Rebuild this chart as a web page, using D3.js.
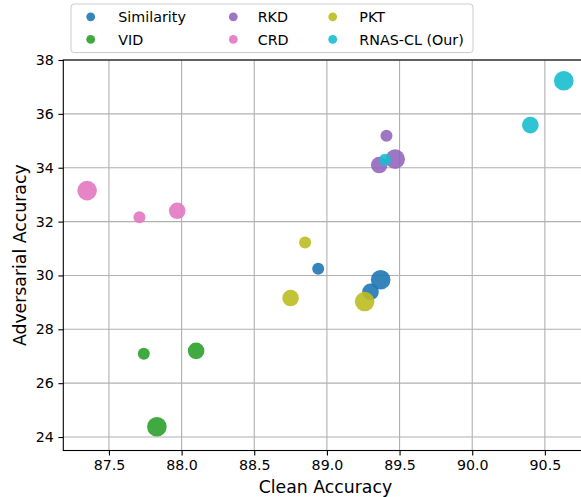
<!DOCTYPE html>
<html>
<head>
<meta charset="utf-8">
<script src="https://cdn.jsdelivr.net/npm/d3@7"></script>
<style>
body { margin: 0; background: white; }
svg { display: block; font-family: "DejaVu Sans", sans-serif; }
</style>
</head>
<body>
<div id="chart"></div>
<script>
// methods, in plotting / legend order
const methods = ['Similarity', 'VID', 'RKD', 'CRD', 'PKT', 'RNAS-CL (Our)']
const colors = ['#1f77b4', '#2ca02c', '#9467bd', '#e377c2', '#bcbd22', '#17becf']
// model size of each of the three points per method
const modelSizes = ['small', 'medium', 'large']
const cleanAcc = [
	[88.94, 89.30, 89.37],
	[87.74, 88.10, 87.83],
	[89.41, 89.36, 89.47],
	[87.71, 87.97, 87.35],
	[88.85, 88.75, 89.26],
	[89.40, 90.40, 90.63]
]
const advAcc = [
	[30.25, 29.39, 29.84],
	[27.09, 27.20, 24.38],
	[35.19, 34.10, 34.32],
	[32.16, 32.40, 33.15],
	[31.22, 29.16, 29.03],
	[34.30, 35.58, 37.23]
]
const xTicks = [87.5, 88.0, 88.5, 89.0, 89.5, 90.0, 90.5]
const yTicks = [24, 26, 28, 30, 32, 34, 36, 38]
const yLimits = [23.5, 38]

var width = 581, height = 497
var plot = {left: 63.3, top: 60, right: 587.6, bottom: 450.5}

var points = []
methods.forEach(function(m, i){
	modelSizes.forEach(function(s, j){
		points.push({method: m, color: colors[i], size: s, x: cleanAcc[i][j], y: advAcc[i][j]})
	})
})

// matplotlib-style 5% margin on x
var xExt = d3.extent(points, function(d){ return d.x })
var xPad = (xExt[1] - xExt[0]) * 0.05
var x = d3.scaleLinear().domain([xExt[0] - xPad, xExt[1] + xPad]).range([plot.left, plot.right])
var y = d3.scaleLinear().domain(yLimits).range([plot.bottom, plot.top])
var r = d3.scaleOrdinal().domain(modelSizes).range([6, 8.3, 9.8])

var svg = d3.select('#chart').append('svg')
	.attr('width', width)
	.attr('height', height)
	.style('overflow', 'hidden')

// grid
svg.append('g')
	.selectAll('line')
	.data(xTicks)
	.enter()
	.append('line')
	.attr('x1', function(d){ return x(d) })
	.attr('x2', function(d){ return x(d) })
	.attr('y1', plot.top)
	.attr('y2', plot.bottom)
	.attr('stroke', '#b0b0b0')
	.attr('stroke-width', 1.1)
svg.append('g')
	.selectAll('line')
	.data(yTicks)
	.enter()
	.append('line')
	.attr('x1', plot.left)
	.attr('x2', plot.right)
	.attr('y1', function(d){ return y(d) })
	.attr('y2', function(d){ return y(d) })
	.attr('stroke', '#b0b0b0')
	.attr('stroke-width', 1.1)

// points
svg.append('g')
	.selectAll('circle')
	.data(points)
	.enter()
	.append('circle')
	.attr('cx', function(d){ return x(d.x) })
	.attr('cy', function(d){ return y(d.y) })
	.attr('r', function(d){ return r(d.size) })
	.attr('fill', function(d){ return d.color })
	.attr('fill-opacity', 0.9)

// axes
var xAxis = svg.append('g')
	.attr('transform', 'translate(0,' + plot.bottom + ')')
	.call(d3.axisBottom(x).tickValues(xTicks).tickFormat(d3.format('.1f')).tickSize(4.9).tickPadding(4.5))
var yAxis = svg.append('g')
	.attr('transform', 'translate(' + plot.left + ',0)')
	.call(d3.axisLeft(y).tickValues(yTicks).tickFormat(d3.format('d')).tickSize(4.9).tickPadding(4.5))
;[xAxis, yAxis].forEach(function(a){
	a.select('.domain').remove()
	a.selectAll('line').attr('stroke', 'black').attr('stroke-width', 1.1)
	a.selectAll('text')
		.attr('fill', 'black')
		.style('font-size', '14.2px')
		.style('font-family', '"DejaVu Sans", sans-serif')
})

// spines
svg.append('rect')
	.attr('x', plot.left)
	.attr('y', plot.top)
	.attr('width', plot.right - plot.left)
	.attr('height', plot.bottom - plot.top)
	.attr('fill', 'none')
	.attr('stroke', 'black')
	.attr('stroke-width', 1.1)

// axis labels
svg.append('text')
	.attr('x', (plot.left + plot.right) / 2)
	.attr('y', 492.8)
	.attr('text-anchor', 'middle')
	.style('font-size', '17.3px')
	.text('Clean Accuracy')
svg.append('text')
	.attr('transform', 'translate(25.5,' + (plot.top + plot.bottom) / 2 + ') rotate(-90)')
	.attr('text-anchor', 'middle')
	.style('font-size', '17.3px')
	.text('Adversarial Accuracy')

// legend, 3 columns filled column-wise
var legend = svg.append('g')
legend.append('rect')
	.attr('x', 71)
	.attr('y', 4)
	.attr('width', 402)
	.attr('height', 48.5)
	.attr('rx', 3)
	.attr('fill', 'white')
	.attr('fill-opacity', 0.8)
	.attr('stroke', '#cccccc')
	.attr('stroke-width', 1)
var colMarker = [90.7, 233.3, 332.7]
var colText = [118.3, 257.7, 359.3]
var rowY = [16.8, 39.4]
var items = legend.selectAll('g.item')
	.data(methods)
	.enter()
	.append('g')
	.attr('class', 'item')
items.append('circle')
	.attr('cx', function(d, i){ return colMarker[Math.floor(i / 2)] })
	.attr('cy', function(d, i){ return rowY[i % 2] })
	.attr('r', 4.4)
	.attr('fill', function(d, i){ return colors[i] })
	.attr('fill-opacity', 0.9)
items.append('text')
	.attr('x', function(d, i){ return colText[Math.floor(i / 2)] })
	.attr('y', function(d, i){ return rowY[i % 2] + 5.2 })
	.style('font-size', '14.3px')
	.attr('fill', 'black')
	.text(function(d){ return d })
</script>
</body>
</html>
